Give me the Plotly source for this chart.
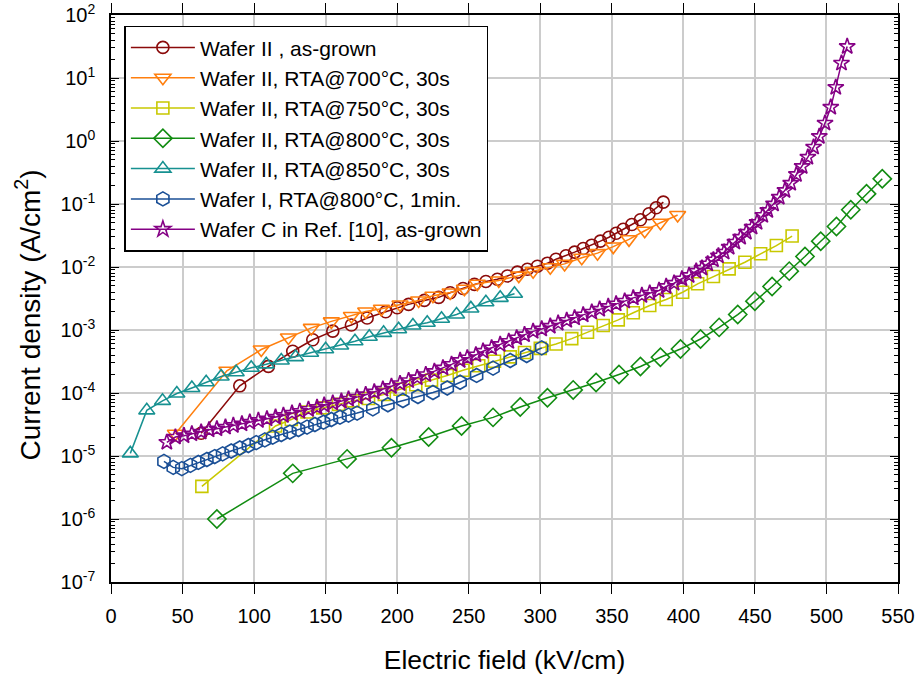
import plotly.graph_objects as go

# ---- series data: electric field (kV/cm) and current density (A/cm^2) ----
asgrown_x = [63, 90, 110, 127, 141, 155, 168, 179, 192, 200, 208, 219, 229, 237, 246, 254,
             262, 270, 277, 284, 291, 298, 305, 311, 318, 324, 330, 336, 342, 348, 353, 358,
             364, 370, 376, 381, 386]
asgrown_y = [2.3e-5, 1.3e-4, 2.65e-4, 4.6e-4, 7.0e-4, 9.6e-4, 1.2e-3, 1.55e-3, 1.95e-3, 2.25e-3,
             2.55e-3, 2.95e-3, 3.3e-3, 3.9e-3, 4.55e-3, 5.3e-3, 5.9e-3, 6.4e-3, 7.2e-3, 8.3e-3,
             9.2e-3, 1.03e-2, 1.15e-2, 1.33e-2, 1.51e-2, 1.72e-2, 1.97e-2, 2.22e-2, 2.57e-2,
             2.97e-2, 3.44e-2, 3.98e-2, 4.73e-2, 5.62e-2, 7.0e-2, 8.7e-2, 0.107]

rta700_x = [45, 81, 105, 124, 140, 154, 168, 178, 189, 202, 215, 225, 237, 247, 256, 271, 285,
            295, 307, 317, 329, 340, 351, 362, 373, 384, 396]
rta700_y = [2.25e-5, 2.25e-4, 4.9e-4, 7.6e-4, 1.08e-3, 1.37e-3, 1.67e-3, 1.97e-3, 2.17e-3,
            2.54e-3, 2.94e-3, 3.49e-3, 3.94e-3, 4.51e-3, 5.41e-3, 6.1e-3, 7.3e-3, 8.6e-3,
            9.9e-3, 1.12e-2, 1.4e-2, 1.66e-2, 2.11e-2, 2.75e-2, 3.76e-2, 5.05e-2, 6.68e-2]

rta750_x = [63.5, 115, 126, 137, 148, 159, 169, 180, 191, 202, 213, 224, 235, 246, 257, 268,
            279, 289, 300, 311, 322, 333, 344, 354.5, 365, 376.5, 388, 399.5, 410, 421, 432,
            443, 454, 465, 476]
rta750_y = [3.3e-6, 3.0e-5, 3.8e-5, 5.0e-5, 5.8e-5, 6.6e-5, 7.5e-5, 8.2e-5, 9.5e-5, 1.15e-4,
            1.35e-4, 1.6e-4, 1.9e-4, 2.3e-4, 2.7e-4, 3.2e-4, 3.75e-4, 4.4e-4, 5.1e-4, 6.0e-4,
            7.3e-4, 9.2e-4, 1.18e-3, 1.45e-3, 1.88e-3, 2.45e-3, 3.05e-3, 3.98e-3, 5.41e-3,
            7.06e-3, 9.35e-3, 1.19e-2, 1.62e-2, 2.19e-2, 3.1e-2]

rta800_x = [74, 127, 165, 196, 222, 245, 267, 286, 305, 323, 339, 355, 370, 384, 398, 412,
            425, 438, 450, 462, 474, 485, 496, 507, 517, 528, 539]
rta800_y = [1.0e-6, 5.3e-6, 9.0e-6, 1.35e-5, 2.0e-5, 3.0e-5, 4.1e-5, 6.0e-5, 8.4e-5, 1.12e-4,
            1.47e-4, 1.97e-4, 2.64e-4, 3.7e-4, 5.0e-4, 7.2e-4, 1.1e-3, 1.76e-3, 2.87e-3,
            4.9e-3, 8.6e-3, 1.47e-2, 2.57e-2, 4.4e-2, 8.1e-2, 0.145, 0.251]

rta850_x = [13.5, 25, 36, 46, 56.5, 66.5, 77, 87.5, 98, 108.5, 119, 129, 139.5, 150, 160.5,
            170.5, 180.5, 190.5, 201, 211, 221, 231, 241.5, 251.5, 262, 272, 282]
rta850_y = [1.1e-5, 5.3e-5, 7.5e-5, 9.8e-5, 1.2e-4, 1.48e-4, 1.83e-4, 2.14e-4, 2.51e-4,
            2.85e-4, 3.28e-4, 3.71e-4, 4.35e-4, 4.95e-4, 5.67e-4, 6.64e-4, 7.8e-4, 9.0e-4,
            1.03e-3, 1.18e-3, 1.3e-3, 1.51e-3, 1.76e-3, 2.2e-3, 2.75e-3, 3.24e-3, 3.76e-3]

waferI_x = [37, 43.5, 49.5, 55.5, 61, 67, 72.5, 78, 84, 90, 96, 101.5, 107.5, 113, 119, 125,
            131, 137, 142.5, 148.5, 154, 160, 166, 172, 183, 193.5, 204, 214.5, 225, 235,
            244, 255.5, 267, 279, 290.5, 301]
waferI_y = [8.2e-6, 6.6e-6, 6.3e-6, 7.1e-6, 7.9e-6, 8.8e-6, 9.8e-6, 1.08e-5, 1.2e-5, 1.34e-5,
            1.47e-5, 1.63e-5, 1.8e-5, 1.99e-5, 2.19e-5, 2.4e-5, 2.63e-5, 2.87e-5, 3.16e-5,
            3.44e-5, 3.8e-5, 4.13e-5, 4.45e-5, 4.8e-5, 5.6e-5, 6.5e-5, 7.6e-5, 8.8e-5,
            1.02e-4, 1.2e-4, 1.48e-4, 1.9e-4, 2.48e-4, 3.28e-4, 3.94e-4, 5.2e-4]

refC_x = [39, 45, 51, 56.5, 63, 68.5, 74, 80, 85.5, 91.5, 97, 103, 109, 115, 120.5, 126.5,
          132, 138, 144, 149, 155, 161, 166, 172, 178, 184, 190, 196, 202, 208, 214, 220,
          226, 232, 238, 244, 249, 255, 260, 266, 272, 278, 283.5, 289, 295, 301, 307,
          312.5, 318.5, 324, 330, 336, 341.5, 347.5, 353, 359, 365, 371, 376.5, 383, 388,
          393.5, 399, 404, 409, 413, 417, 421, 424.5, 428.5, 432, 436, 440, 444, 448, 451.5,
          455.5, 459, 463, 467, 471, 475, 479, 483, 487, 491, 495, 499, 503, 506.5, 510.5,
          514.5]
refC_y = [1.65e-5, 2.0e-5, 2.1e-5, 2.25e-5, 2.4e-5, 2.6e-5, 2.7e-5, 2.87e-5, 3.05e-5, 3.24e-5,
          3.44e-5, 3.66e-5, 3.89e-5, 4.13e-5, 4.4e-5, 4.78e-5, 5.1e-5, 5.5e-5, 5.9e-5, 6.4e-5,
          6.9e-5, 7.4e-5, 8.0e-5, 8.6e-5, 9.4e-5, 1.04e-4, 1.15e-4, 1.27e-4, 1.41e-4, 1.57e-4,
          1.75e-4, 1.96e-4, 2.2e-4, 2.5e-4, 2.85e-4, 3.28e-4, 3.62e-4, 4.04e-4, 4.6e-4,
          5.2e-4, 5.9e-4, 6.6e-4, 7.5e-4, 8.4e-4, 9.5e-4, 1.04e-3, 1.15e-3, 1.28e-3, 1.42e-3,
          1.56e-3, 1.74e-3, 1.92e-3, 2.14e-3, 2.36e-3, 2.6e-3, 2.87e-3, 3.24e-3, 3.53e-3,
          3.84e-3, 4.24e-3, 4.9e-3, 5.53e-3, 6.5e-3, 7.33e-3, 8.57e-3, 9.6e-3, 1.12e-2, 1.3e-2,
          1.5e-2, 1.72e-2, 2.06e-2, 2.48e-2, 2.97e-2, 3.57e-2, 4.3e-2, 5.1e-2, 6.6e-2, 7.9e-2,
          0.100, 0.128, 0.164, 0.214, 0.294, 0.394, 0.553, 0.80, 1.18, 1.92, 3.44, 7.1, 17.2,
          31.6]

series = [
    ("Wafer II , as-grown", asgrown_x, asgrown_y, "circle-open", "#8B0A0A", 12),
    ("Wafer II, RTA@700°C, 30s", rta700_x, rta700_y, "triangle-down-open", "#FF7F0E", 14),
    ("Wafer II, RTA@750°C, 30s", rta750_x, rta750_y, "square-open", "#C8C800", 12),
    ("Wafer II, RTA@800°C, 30s", rta800_x, rta800_y, "diamond-open", "#118C11", 14),
    ("Wafer II, RTA@850°C, 30s", rta850_x, rta850_y, "triangle-up-open", "#179191", 14),
    ("Wafer I, RTA@800°C, 1min.", waferI_x, waferI_y, "hexagon-open", "#1A4F96", 14),
    ("Wafer C in Ref. [10], as-grown", refC_x, refC_y, "star-open", "#850085", 12),
]

y_tick_vals = [1e-7, 1e-6, 1e-5, 1e-4, 1e-3, 1e-2, 1e-1, 1e0, 1e1, 1e2]
y_tick_text = ["10<sup>-7</sup>", "10<sup>-6</sup>", "10<sup>-5</sup>", "10<sup>-4</sup>",
               "10<sup>-3</sup>", "10<sup>-2</sup>", "10<sup>-1</sup>", "10<sup>0</sup>",
               "10<sup>1</sup>", "10<sup>2</sup>"]
x_tick_vals = list(range(0, 551, 50))

fig = go.Figure()
for name, xs, ys, sym, col, size in series:
    fig.add_trace(go.Scatter(
        x=xs, y=ys, name=name, mode="lines+markers",
        line=dict(color=col, width=1.5),
        marker=dict(symbol=sym, size=size, color=col, line=dict(width=1.6, color=col)),
    ))

# minor ticks of the log axis: 2..9 within each decade
minor_y = [m * 10.0 ** e for e in range(-7, 2) for m in range(2, 10)]

font_family = "Liberation Sans, Arial, sans-serif"
plot_left, plot_right, plot_top, plot_bottom = 111, 21, 15, 99
plot_w = 919 - plot_left - plot_right
plot_h = 681 - plot_top - plot_bottom

fig.update_layout(
    width=919, height=681,
    margin=dict(l=plot_left, r=plot_right, t=plot_top, b=plot_bottom),
    paper_bgcolor="white", plot_bgcolor="white",
    font=dict(family=font_family, color="black"),
    showlegend=True,
    legend=dict(
        x=0.017, y=0.981, xanchor="left", yanchor="top",
        bgcolor="white", bordercolor="black", borderwidth=1.5,
        font=dict(size=21, family=font_family),
        itemwidth=64, entrywidth=330, tracegroupgap=0,
    ),
    xaxis=dict(
        range=[0, 550], tickmode="array", tickvals=x_tick_vals, automargin=False,
        showline=True, linecolor="black", linewidth=1.5, mirror="ticks",
        ticks="outside", ticklen=10, tickwidth=1.2, tickcolor="black",
        showgrid=True, gridcolor="#cccccc", gridwidth=1.5, zeroline=False,
        tickfont=dict(size=20), ticklabelstandoff=5,
        title=dict(text="Electric field (kV/cm)", font=dict(size=26.5), standoff=25),
    ),
    yaxis=dict(
        type="log", range=[-7, 2], tickmode="array", automargin=False,
        tickvals=y_tick_vals, ticktext=y_tick_text,
        showline=True, linecolor="black", linewidth=1.5, mirror="ticks",
        ticks="inside", ticklen=8, tickwidth=1.2, tickcolor="black",
        showgrid=True, gridcolor="#cccccc", gridwidth=1.5, zeroline=False,
        tickfont=dict(size=20), ticklabelstandoff=10,
        minor=dict(tickmode="array", tickvals=minor_y, ticks="inside", ticklen=4,
                   tickcolor="black", tickwidth=1, showgrid=False),
    ),
)

# vertical axis title, placed slightly below the middle of the plot area
fig.add_annotation(
    text="Current density (A/cm<sup>2</sup>)",
    xref="paper", yref="paper",
    x=(28.5 - plot_left) / plot_w, y=(681 - plot_bottom - 315) / plot_h,
    xanchor="center", yanchor="middle", textangle=-90, showarrow=False,
    font=dict(size=28, family=font_family, color="black"),
)

fig.write_html("out.html")
